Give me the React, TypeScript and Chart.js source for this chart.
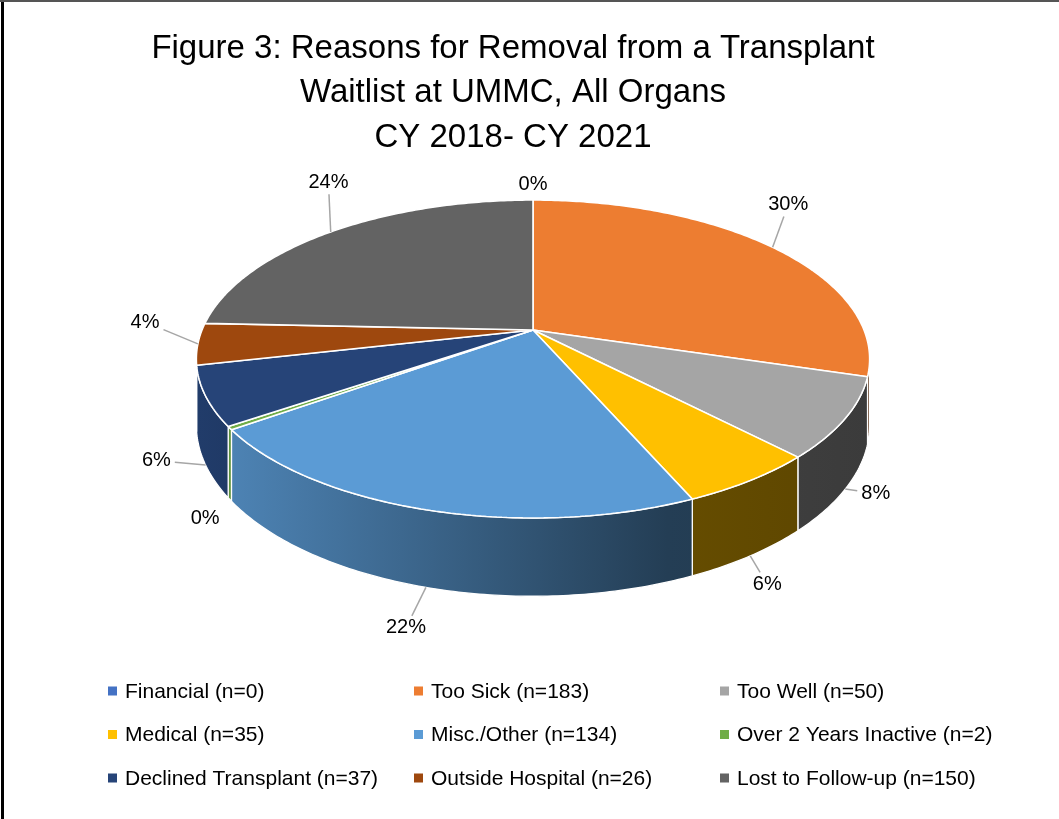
import React, { useEffect, useRef } from "react";
import { Chart, registerables } from "chart.js";

Chart.register(...registerables);

// ---------- data ----------
const reasons = [
  "Financial",
  "Too Sick",
  "Too Well",
  "Medical",
  "Misc./Other",
  "Over 2 Years Inactive",
  "Declined Transplant",
  "Outside Hospital",
  "Lost to Follow-up",
];
const counts = [0, 183, 50, 35, 134, 2, 37, 26, 150];
const sliceColors = [
  "#4472C4",
  "#ED7D31",
  "#A5A5A5",
  "#FFC000",
  "#5B9BD5",
  "#70AD47",
  "#264478",
  "#9E480E",
  "#636363",
];
const titleLines = [
  "Figure 3: Reasons for Removal from a Transplant",
  "Waitlist at UMMC, All Organs",
  "CY 2018- CY 2021",
];

// ---------- layout / style ----------
const FONT = "'Liberation Sans', Arial, sans-serif";
// perspective view of the pie disk: vertex (cx, vy), half-width a, half-depth b, perspective e, wall height d
const VIEW = { cx: 533, vy: 330, a: 331, b: 153.7, e: 0.1824, d: 64 };
const LEGEND = { left: 108, top: 691, colWidth: 306, rowGap: 43.5, cols: 3 };

function shade(hex: string, f: number) {
  const n = parseInt(hex.slice(1), 16);
  const r = Math.round(((n >> 16) & 255) * f);
  const g = Math.round(((n >> 8) & 255) * f);
  const b = Math.round((n & 255) * f);
  return `rgb(${r},${g},${b})`;
}

// unit-disk coords (u right, w toward viewer) -> screen
function projUnit(u: number, w: number, drop = 0): [number, number] {
  const den = 1 - VIEW.e * w;
  return [VIEW.cx + (VIEW.a * u) / den, VIEW.vy + (VIEW.b * w) / den + (drop * VIEW.d) / den];
}

const P = CanvasRenderingContext2D.prototype;

function installProjection(ctx: any, px: number, py: number, R: number) {
  let has = false;
  const pr = (x: number, y: number) => projUnit((x - px) / R, (y - py) / R);
  ctx.beginPath = function () {
    has = false;
    P.beginPath.call(this);
  };
  ctx.moveTo = function (x: number, y: number) {
    const p = pr(x, y);
    has = true;
    P.moveTo.call(this, p[0], p[1]);
  };
  ctx.lineTo = function (x: number, y: number) {
    const p = pr(x, y);
    if (!has) {
      has = true;
      P.moveTo.call(this, p[0], p[1]);
    } else P.lineTo.call(this, p[0], p[1]);
  };
  ctx.arc = function (x: number, y: number, r: number, a0: number, a1: number, ccw?: boolean) {
    let sweep = a1 - a0;
    if (!ccw) {
      if (sweep < 0) sweep += Math.PI * 2;
      if (sweep > Math.PI * 2) sweep = Math.PI * 2;
    } else {
      if (sweep > 0) sweep -= Math.PI * 2;
      if (sweep < -Math.PI * 2) sweep = -Math.PI * 2;
    }
    const n = r <= 0 ? 1 : Math.max(2, Math.ceil(Math.abs(sweep) / (Math.PI / 240)));
    for (let i = 0; i <= n; i++) {
      const ang = a0 + (sweep * i) / n;
      const p = pr(x + r * Math.cos(ang), y + r * Math.sin(ang));
      if (!has) {
        has = true;
        P.moveTo.call(this, p[0], p[1]);
      } else P.lineTo.call(this, p[0], p[1]);
    }
  };
}

function removeProjection(ctx: any) {
  delete ctx.beginPath;
  delete ctx.moveTo;
  delete ctx.lineTo;
  delete ctx.arc;
}

const pie3d = {
  id: "pie3d",
  beforeDatasetsDraw(chart: any) {
    const meta = chart.getDatasetMeta(0);
    const ctx = chart.ctx as CanvasRenderingContext2D;
    const tMin = Math.asin(VIEW.e);
    const tMax = Math.PI - tMin;
    const left = projUnit(-1, 0)[0] - 4;
    const right = projUnit(1, 0)[0] + 4;
    // side walls (visible front part)
    meta.data.forEach((arc: any, i: number) => {
      const { startAngle, endAngle } = arc.getProps(["startAngle", "endAngle"], true);
      const a = Math.max(startAngle, tMin);
      const b = Math.min(endAngle, tMax);
      if (b - a <= 0) return;
      const base = sliceColors[i];
      const grad = ctx.createLinearGradient(left, 0, right, 0);
      grad.addColorStop(0, shade(base, 0.88));
      grad.addColorStop(0.7, shade(base, 0.4));
      grad.addColorStop(1, shade(base, 0.36));
      const n = Math.max(2, Math.ceil((b - a) / (Math.PI / 240)));
      ctx.save();
      ctx.beginPath();
      for (let k = 0; k <= n; k++) {
        const t = a + ((b - a) * k) / n;
        const p = projUnit(Math.cos(t), Math.sin(t), 0);
        if (k === 0) ctx.moveTo(p[0], p[1]);
        else ctx.lineTo(p[0], p[1]);
      }
      for (let k = n; k >= 0; k--) {
        const t = a + ((b - a) * k) / n;
        const p = projUnit(Math.cos(t), Math.sin(t), 1);
        ctx.lineTo(p[0], p[1]);
      }
      ctx.closePath();
      ctx.fillStyle = grad;
      ctx.fill();
      ctx.strokeStyle = "#ffffff";
      ctx.lineWidth = 1.3;
      ctx.stroke();
      ctx.restore();
    });
    const first = meta.data[0];
    installProjection(ctx, first.x, first.y, first.outerRadius);
  },
  afterDatasetsDraw(chart: any) {
    const ctx = chart.ctx as CanvasRenderingContext2D;
    removeProjection(ctx);
    const meta = chart.getDatasetMeta(0);
    const tMin = Math.asin(VIEW.e);
    const tMax = Math.PI - tMin;
    const total = counts.reduce((s, v) => s + v, 0);
    ctx.save();
    ctx.font = `20px ${FONT}`;
    ctx.textAlign = "center";
    ctx.textBaseline = "middle";
    meta.data.forEach((arc: any, i: number) => {
      const { startAngle, endAngle } = arc.getProps(["startAngle", "endAngle"], true);
      const m = (startAngle + endAngle) / 2;
      const c = Math.cos(m);
      const s = Math.sin(m);
      const onWall = m > tMin && m < tMax;
      const [ax, ay] = projUnit(c, s, onWall ? 1 : 0);
      const pctVal = Math.round((counts[i] / total) * 100);
      const pct = pctVal + "%";
      let tx: number, ty: number;
      const small = pctVal === 0;
      if (small) {
        tx = ax + c * 30;
        ty = ay + s * 22 + 6;
      } else if (s < 0) {
        tx = ax + c * 12 + 6;
        ty = ay + s * 55 - 10;
      } else {
        tx = ax + c * 45 - 8;
        ty = ay + s * 44 - 26 * c * c;
      }
      if (!small) {
        const w = ctx.measureText(pct).width / 2 + 4;
        const h = 12;
        const dx = ax - tx;
        const dy = ay - ty;
        const t = Math.min(dx !== 0 ? w / Math.abs(dx) : Infinity, dy !== 0 ? h / Math.abs(dy) : Infinity);
        if (t < 1) {
          const ex = tx + dx * t;
          const ey = ty + dy * t;
          if (Math.hypot(ax - ex, ay - ey) > 8) {
            ctx.strokeStyle = "#A6A6A6";
            ctx.lineWidth = 1.5;
            ctx.beginPath();
            ctx.moveTo(ax, ay);
            ctx.lineTo(ex, ey);
            ctx.stroke();
          }
        }
      }
      ctx.fillStyle = "#000000";
      ctx.fillText(pct, tx, ty);
    });
    ctx.restore();
  },
};

const gridLegend = {
  id: "gridLegend",
  afterDraw(chart: any) {
    const ctx = chart.ctx as CanvasRenderingContext2D;
    ctx.save();
    ctx.font = `21px ${FONT}`;
    ctx.textBaseline = "middle";
    ctx.textAlign = "left";
    reasons.forEach((name, i) => {
      const col = i % LEGEND.cols;
      const row = Math.floor(i / LEGEND.cols);
      const x = LEGEND.left + col * LEGEND.colWidth;
      const y = LEGEND.top + row * LEGEND.rowGap;
      ctx.fillStyle = sliceColors[i];
      ctx.fillRect(x, y - 4.5, 9, 9);
      ctx.fillStyle = "#000000";
      ctx.fillText(`${name} (n=${counts[i]})`, x + 17, y + 1);
    });
    ctx.restore();
  },
};

export default function App() {
  const ref = useRef<HTMLCanvasElement | null>(null);
  useEffect(() => {
    if (!ref.current) return;
    const chart = new Chart(ref.current, {
      type: "pie",
      data: {
        labels: reasons.map((r, i) => `${r} (n=${counts[i]})`),
        datasets: [
          {
            data: counts,
            backgroundColor: sliceColors,
            borderColor: "#ffffff",
            borderWidth: 1.6,
            clip: false,
          } as any,
        ],
      },
      options: {
        responsive: false,
        animation: false,
        events: [],
        layout: { padding: { left: 0, right: 33, top: 0, bottom: 150 } },
        plugins: {
          legend: { display: false },
          tooltip: { enabled: false },
          title: {
            display: true,
            text: titleLines,
            color: "#000000",
            font: { family: FONT, size: 33, weight: "normal", lineHeight: 1.36 },
            padding: { top: 26, bottom: 10 },
          },
        },
      },
      plugins: [pie3d, gridLegend],
    });
    return () => chart.destroy();
  }, []);

  return (
    <div style={{ position: "fixed", left: 0, top: 0, width: 1059, height: 819, background: "#fff" }}>
      <canvas ref={ref} width={1059} height={819} style={{ position: "absolute", left: 0, top: 0 }} />
      <div style={{ position: "absolute", left: 1, top: 0, width: 3, height: 819, background: "#000" }} />
      <div style={{ position: "absolute", left: 0, top: 0, width: 1059, height: 2, background: "#555" }} />
    </div>
  );
}
